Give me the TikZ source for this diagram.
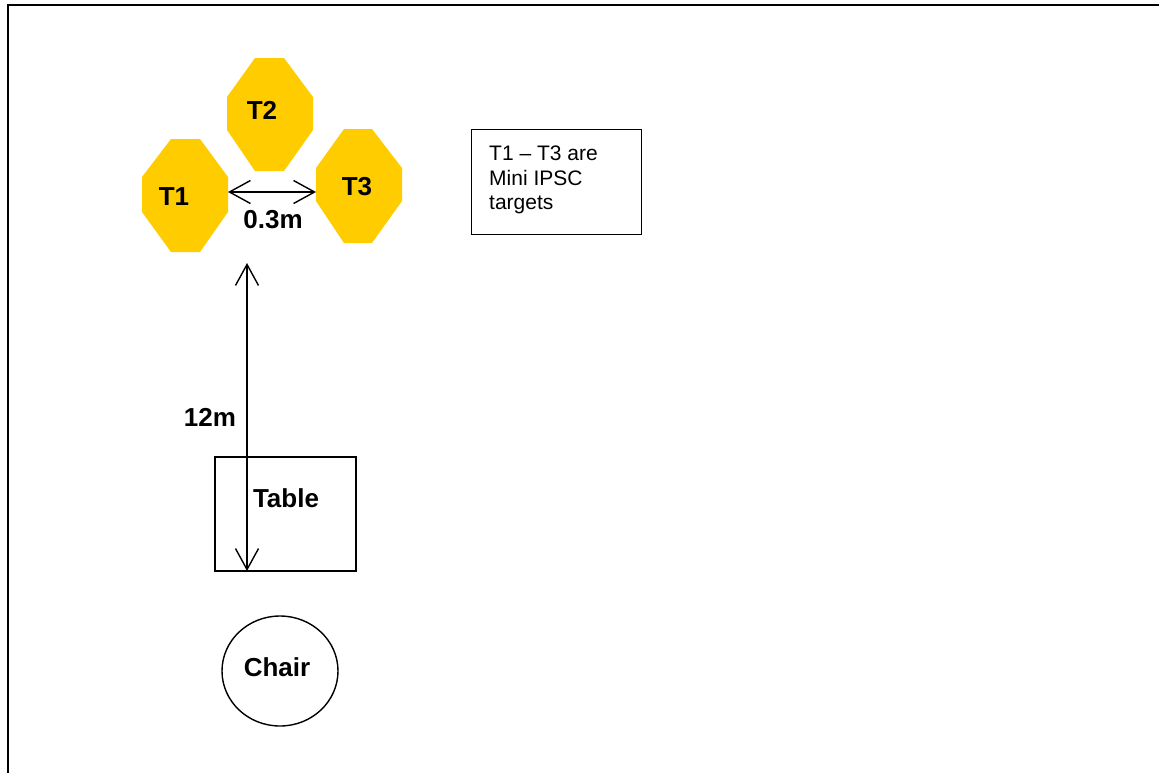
\documentclass[tikz,border=0pt]{standalone}
\usepackage{fontspec}
\setmainfont{Liberation Sans}
\usetikzlibrary{arrows.meta,shapes.geometric}
\definecolor{tgold}{HTML}{FFCC00}
\begin{document}
\begin{tikzpicture}[x=1pt,y=-1pt,
  lbl/.style={font=\fontsize{26}{30}\selectfont\bfseries, inner sep=0pt},
  target/.style={fill=tgold, draw=none},
  dim/.style={line width=1.4pt, {Straight Barb[length=21pt,width=23pt,line width=1.4pt]}-{Straight Barb[length=21pt,width=23pt,line width=1.4pt]}},
  thin box/.style={draw, line width=1.4pt}]
\useasboundingbox (0,0) rectangle (1159,772);
\fill[white] (0,0) rectangle (1159,772);
% frame
\draw[line width=2.5pt] (8,775) -- (8,5) -- (1165,5);
% targets
\fill[target] (171,139) -- (200,139) -- (228,177) -- (228,212) -- (200,252) -- (171,252) -- (142,212) -- (142,177) -- cycle;
\fill[target] (255,58) -- (284,58) -- (313,97) -- (313,130) -- (284,171) -- (255,171) -- (227,130) -- (227,97) -- cycle;
\fill[target] (344,129) -- (372,129) -- (402,168) -- (402,201) -- (372,243) -- (344,243) -- (316,201) -- (316,168) -- cycle;
\node[lbl] (T1) at (174,197) {T1};
\node[lbl] (T2) at (262,110) {T2};
\node[lbl] (T3) at (357,187) {T3};
% horizontal dimension
\coordinate (h1) at (228,192);
\coordinate (h2) at (316,192);
\draw[dim] (h1) -- (h2);
\node[lbl] (d03) at (273,220) {0.3m};
% note box
\node[thin box, minimum width=170pt, minimum height=105pt, inner sep=0pt] (note) at (556.5,182) {};
\node[anchor=north west, inner sep=0pt, align=left, font=\fontsize{21}{24.5}\selectfont] (notetext) at (489,146) {T1 -- T3 are\\Mini IPSC\\targets};
% table
\node[thin box, minimum width=141pt, minimum height=114pt, inner sep=0pt] (table) at (285.5,514) {};
\node[lbl] (tabletext) at (286,498) {Table};
% vertical dimension
\coordinate (vtop) at (247,263);
\coordinate (vbot) at (247,571);
\draw[dim] (vtop) -- (vbot);
\node[lbl] (d12) at (210,417) {12m};
% chair
\node[draw, line width=1.4pt, ellipse, minimum width=116pt, minimum height=110pt, inner sep=0pt] (chair) at (280,671) {};
\node[lbl] (chairtext) at (277,667) {Chair};
\end{tikzpicture}
\end{document}
